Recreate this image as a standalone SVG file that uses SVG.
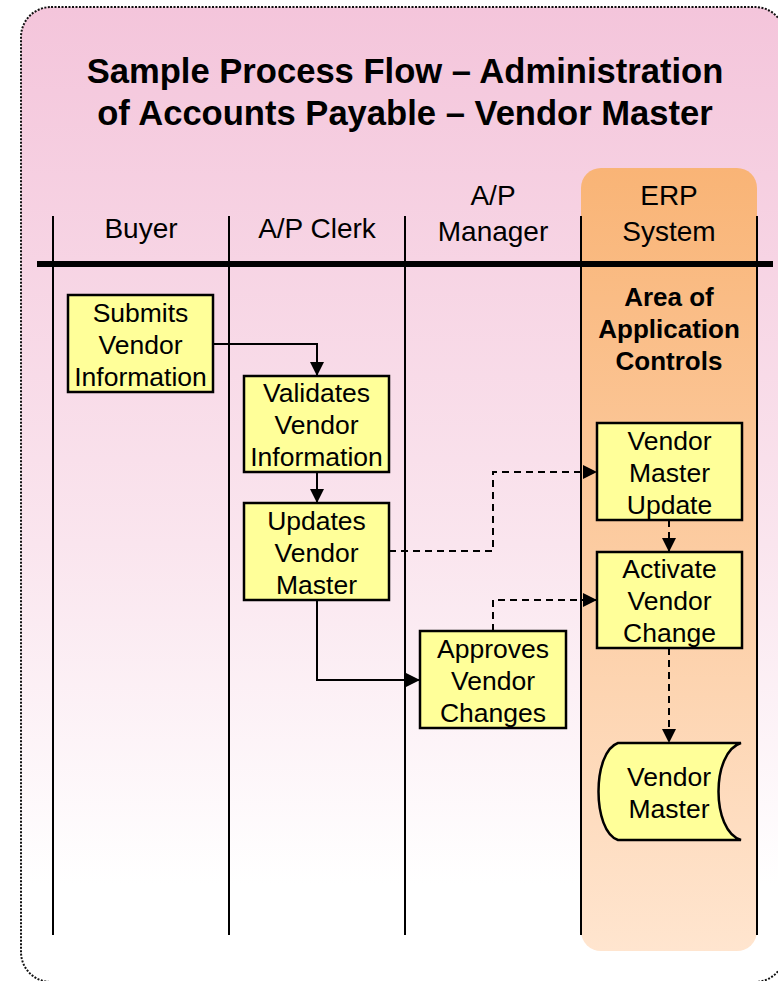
<svg xmlns="http://www.w3.org/2000/svg" width="778" height="981" viewBox="0 0 778 981">
  <defs>
    <linearGradient id="bgGrad" x1="0" y1="0" x2="0" y2="1">
      <stop offset="0" stop-color="#F4C5DB"/>
      <stop offset="0.55" stop-color="#FAE5EE"/>
      <stop offset="0.9" stop-color="#FFFFFF"/>
    </linearGradient>
    <linearGradient id="erpGrad" x1="0" y1="0" x2="0" y2="1">
      <stop offset="0" stop-color="#F9B476"/>
      <stop offset="1" stop-color="#FFE5CF"/>
    </linearGradient>
    <marker id="arrow" markerUnits="userSpaceOnUse" markerWidth="14" markerHeight="14" viewBox="0 0 14 14" refX="14" refY="7" orient="auto">
      <path d="M0,0 L14,7 L0,14 Z" fill="#000"/>
    </marker>
    <style>
      .title { font-family: "Liberation Sans", Arial, sans-serif; font-weight: bold; font-size: 34.6px; fill: #000; text-anchor: middle; }
      .lane { font-family: "Liberation Sans", Arial, sans-serif; font-size: 28px; fill: #000; text-anchor: middle; }
      .area { font-family: "Liberation Sans", Arial, sans-serif; font-weight: bold; font-size: 26px; fill: #000; text-anchor: middle; }
      .label { font-family: "Liberation Sans", Arial, sans-serif; font-size: 26.5px; fill: #000; text-anchor: middle; }
      .box { fill: #FFFF99; stroke: #000; stroke-width: 2.5; }
      .lanesep { stroke: #000; stroke-width: 2; }
      .flow { fill: none; stroke: #000; stroke-width: 2; }
      .dashed { fill: none; stroke: #000; stroke-width: 2; stroke-dasharray: 7 5; }
    </style>
  </defs>

  <!-- outer panel -->
  <rect x="21" y="7" width="764" height="975" rx="30" ry="30" fill="url(#bgGrad)" stroke="#111" stroke-width="2" stroke-dasharray="2 1.5"/>

  <!-- title -->
  <text class="title" x="405" y="83">Sample Process Flow – Administration</text>
  <text class="title" x="405" y="125">of Accounts Payable – Vendor Master</text>

  <!-- ERP system column -->
  <rect x="581" y="168" width="176" height="783" rx="20" ry="20" fill="url(#erpGrad)"/>

  <!-- swimlane separators -->
  <g id="lanes">
    <line class="lanesep" x1="53" y1="216" x2="53" y2="935"/>
    <line class="lanesep" x1="229" y1="216" x2="229" y2="935"/>
    <line class="lanesep" x1="405" y1="216" x2="405" y2="935"/>
    <line class="lanesep" x1="581" y1="216" x2="581" y2="935"/>
    <line class="lanesep" x1="757" y1="216" x2="757" y2="935"/>
    <line x1="37" y1="264" x2="773" y2="264" stroke="#000" stroke-width="6"/>
  </g>

  <!-- lane headers -->
  <g id="headers">
    <text class="lane" x="141" y="238">Buyer</text>
    <text class="lane" x="317" y="238">A/P Clerk</text>
    <text class="lane" x="493" y="205">A/P</text>
    <text class="lane" x="493" y="241">Manager</text>
    <text class="lane" x="669" y="205">ERP</text>
    <text class="lane" x="669" y="241">System</text>
  </g>

  <g id="area-label">
    <text class="area" x="669" y="306">Area of</text>
    <text class="area" x="669" y="338">Application</text>
    <text class="area" x="669" y="370">Controls</text>
  </g>

  <!-- connectors -->
  <g id="connectors">
    <path class="flow" d="M213,344 H317 V376" marker-end="url(#arrow)"/>
    <path class="flow" d="M317,472 V503" marker-end="url(#arrow)"/>
    <path class="flow" d="M317,600 V680 H420" marker-end="url(#arrow)"/>
    <path class="dashed" d="M389,551 H493 V472 H597" marker-end="url(#arrow)"/>
    <path class="dashed" d="M493,631 V600 H597" marker-end="url(#arrow)"/>
    <path class="dashed" d="M669,520 V552" marker-end="url(#arrow)"/>
    <path class="dashed" d="M669,648 V743" marker-end="url(#arrow)"/>
  </g>

  <!-- process steps -->
  <g id="submits">
    <rect class="box" x="68" y="295" width="145" height="97"/>
    <text class="label" x="140.5" y="322">Submits</text>
    <text class="label" x="140.5" y="354">Vendor</text>
    <text class="label" x="140.5" y="386">Information</text>
  </g>
  <g id="validates">
    <rect class="box" x="244" y="376" width="145" height="96"/>
    <text class="label" x="316.5" y="402">Validates</text>
    <text class="label" x="316.5" y="434">Vendor</text>
    <text class="label" x="316.5" y="466">Information</text>
  </g>
  <g id="updates">
    <rect class="box" x="244" y="503" width="145" height="97"/>
    <text class="label" x="316.5" y="530">Updates</text>
    <text class="label" x="316.5" y="562">Vendor</text>
    <text class="label" x="316.5" y="594">Master</text>
  </g>
  <g id="approves">
    <rect class="box" x="420" y="631" width="146" height="97"/>
    <text class="label" x="493" y="658">Approves</text>
    <text class="label" x="493" y="690">Vendor</text>
    <text class="label" x="493" y="722">Changes</text>
  </g>
  <g id="vendor-master-update">
    <rect class="box" x="597" y="423" width="145" height="97"/>
    <text class="label" x="669.5" y="450">Vendor</text>
    <text class="label" x="669.5" y="482">Master</text>
    <text class="label" x="669.5" y="514">Update</text>
  </g>
  <g id="activate">
    <rect class="box" x="597" y="552" width="145" height="96"/>
    <text class="label" x="669.5" y="578">Activate</text>
    <text class="label" x="669.5" y="610">Vendor</text>
    <text class="label" x="669.5" y="642">Change</text>
  </g>
  <!-- stored data -->
  <g id="vendor-master">
    <path class="box" d="M741,743 H618 C592,752 592,831 618,840 H741 C711,831 711,752 741,743 Z"/>
    <text class="label" x="669" y="786">Vendor</text>
    <text class="label" x="669" y="818">Master</text>
  </g>
</svg>
